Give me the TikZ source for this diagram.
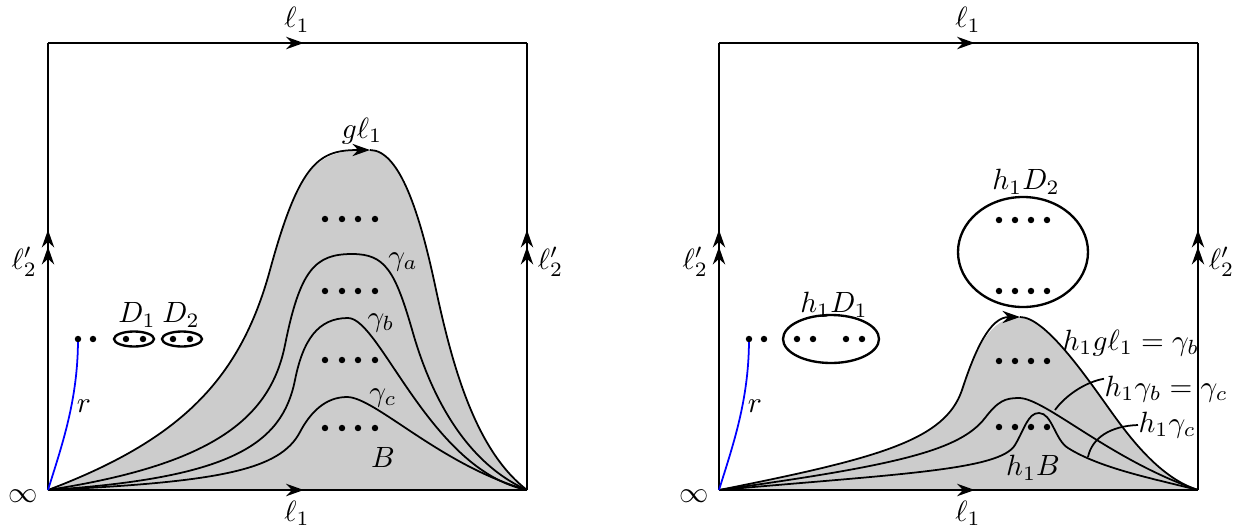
\documentclass[tikz,border=0pt]{standalone}
\usepackage{amsmath,amssymb}
\usepackage{tikz}
\usepackage{xcolor}
\usetikzlibrary{arrows.meta,decorations.markings}

\begin{document}
\begin{tikzpicture}[x=0.012cm,y=-0.012cm,>={Stealth[length=6pt,width=4.2pt]},
  frame/.style={thick},
  curve/.style={semithick},
  region/.style={fill=gray!40},
  midarrow/.style={postaction={decorate},decoration={markings,mark=at position #1 with {\arrow{>}}}},
  dblarrow/.style={postaction={decorate},decoration={markings,mark=at position 0.544 with {\arrow{>}},mark=at position 0.582 with {\arrow{>}}}}]
\useasboundingbox (0,0) rectangle (1244,527);
\coordinate (pkL) at (370,150);
\coordinate (pkR) at (1020,317);
\fill[region] (48,490) .. controls (180,440) and (240,380) .. (270,270) .. controls (300,160) and (320,150) .. (pkL)
  .. controls (400,150) and (420,215) .. (435,285) .. controls (452,365) and (475,450) .. (527,490) -- cycle;
\fill[region] (719,490) .. controls (880,458) and (945,440) .. (962,390) .. controls (975,350) and (990,317) .. (pkR)
  .. controls (1045,317) and (1085,375) .. (1110,410) .. controls (1130,438) and (1160,478) .. (1198,490) -- cycle;
\draw[curve,->] (48,490) .. controls (180,440) and (240,380) .. (270,270) .. controls (300,160) and (320,150) .. (pkL);
\draw[curve] (pkL) .. controls (400,150) and (420,215) .. (435,285) .. controls (452,365) and (475,450) .. (527,490);
\draw[curve] (48,490) .. controls (210,465) and (270,420) .. (285,345) .. controls (300,270) and (315,254) .. (352,254)
  .. controls (385,254) and (395,270) .. (413,333) .. controls (428,385) and (460,460) .. (527,490);
\draw[curve] (48,490) .. controls (230,478) and (282,445) .. (295,380) .. controls (303,340) and (318,318) .. (348,318)
  .. controls (380,318) and (430,470) .. (527,490);
\draw[curve] (48,490) .. controls (220,482) and (280,470) .. (300,432) .. controls (310,413) and (325,397) .. (347,397)
  .. controls (375,397) and (440,465) .. (527,490);
\draw[curve,->] (719,490) .. controls (880,458) and (945,440) .. (962,390) .. controls (975,350) and (990,317) .. (pkR);
\draw[curve] (pkR) .. controls (1045,317) and (1085,375) .. (1110,410) .. controls (1130,438) and (1160,478) .. (1198,490);
\draw[curve] (719,490) .. controls (900,465) and (960,450) .. (985,418) .. controls (998,401) and (1005,398) .. (1019,398)
  .. controls (1045,398) and (1110,460) .. (1198,490);
\draw[curve] (719,490) .. controls (900,474) and (1000,470) .. (1015,445) .. controls (1025,428) and (1028,413) .. (1039,413)
  .. controls (1052,413) and (1055,440) .. (1068,448) .. controls (1100,468) and (1150,478) .. (1198,490);
\foreach \ox/\nm in {0/L,671/R} {
  \coordinate (sw\nm) at (48+\ox,490);
  \coordinate (se\nm) at (527+\ox,490);
  \coordinate (nw\nm) at (48+\ox,43);
  \coordinate (ne\nm) at (527+\ox,43);
  \coordinate (rt\nm) at (78+\ox,339);
  \draw[frame,midarrow=0.534] (nw\nm) -- node[pos=0.52,above] (top\nm) {$\ell_1$} (ne\nm);
  \draw[frame,midarrow=0.534] (sw\nm) -- node[pos=0.52,below] (bot\nm) {$\ell_1$} (se\nm);
  \draw[frame,dblarrow] (sw\nm) -- node[pos=0.51,left] (lft\nm) {$\ell'_2$} (nw\nm);
  \draw[frame,dblarrow] (se\nm) -- node[pos=0.51,right] (rgt\nm) {$\ell'_2$} (ne\nm);
  \node[left] (inf\nm) at (48+\ox,496) {$\infty$};
  \draw[blue,semithick] (sw\nm) .. controls (62+\ox,445) and (78+\ox,400) .. (rt\nm);
  \node (r\nm) at (84+\ox,406) {$r$};
  \fill (rt\nm) circle (1.1pt);
  \fill (93+\ox,339) circle (1.1pt);
}
\draw[thick] (134,339) ellipse [x radius=20,y radius=7.5];
\draw[thick] (182,339) ellipse [x radius=20,y radius=7.5];
\foreach \x in {126,143,173,190} {\fill (\x,339) circle (1.1pt);}
\node (D1) at (137,315) {$D_1$};
\node (D2) at (181,315) {$D_2$};
\foreach \x in {325,342,358,375} {\foreach \y in {219,291,360,428} {\fill (\x,\y) circle (1.1pt);}}
\node (gl) at (362,131) {$g\ell_1$};
\node (ga) at (403,262) {$\gamma_a$};
\node (gb) at (381,323) {$\gamma_b$};
\node (gc) at (383,398) {$\gamma_c$};
\node (B) at (383,457) {$B$};
\draw[thick] (831,339) ellipse [x radius=48,y radius=24];
\draw[thick] (1023,252) ellipse [x radius=65,y radius=55];
\foreach \x in {797,813,846,862} {\fill (\x,339) circle (1.1pt);}
\foreach \x in {999,1015,1031,1047} {\foreach \y in {220,291,361,427} {\fill (\x,\y) circle (1.1pt);}}
\node (hD1) at (834,305) {$h_1D_1$};
\node (hD2) at (1026,182) {$h_1D_2$};
\node (hB) at (1033,468) {$h_1B$};
\node[anchor=west,inner sep=0pt] (hgl) at (1062,343) {$h_1g\ell_1=\gamma_b$};
\node[anchor=west,inner sep=0pt] (hgb) at (1104,389) {$h_1\gamma_b=\gamma_c$};
\node[anchor=west,inner sep=0pt] (hgc) at (1138,425) {$h_1\gamma_c$};
\coordinate (pb) at (1055,410);
\coordinate (pc) at (1088,457);
\draw[curve] ([yshift=3.5pt]hgb.west) .. controls (1085,382) and (1065,396) .. (pb);
\draw[curve] (hgc.west) .. controls (1110,426) and (1092,438) .. (pc);
\end{tikzpicture}
\end{document}
